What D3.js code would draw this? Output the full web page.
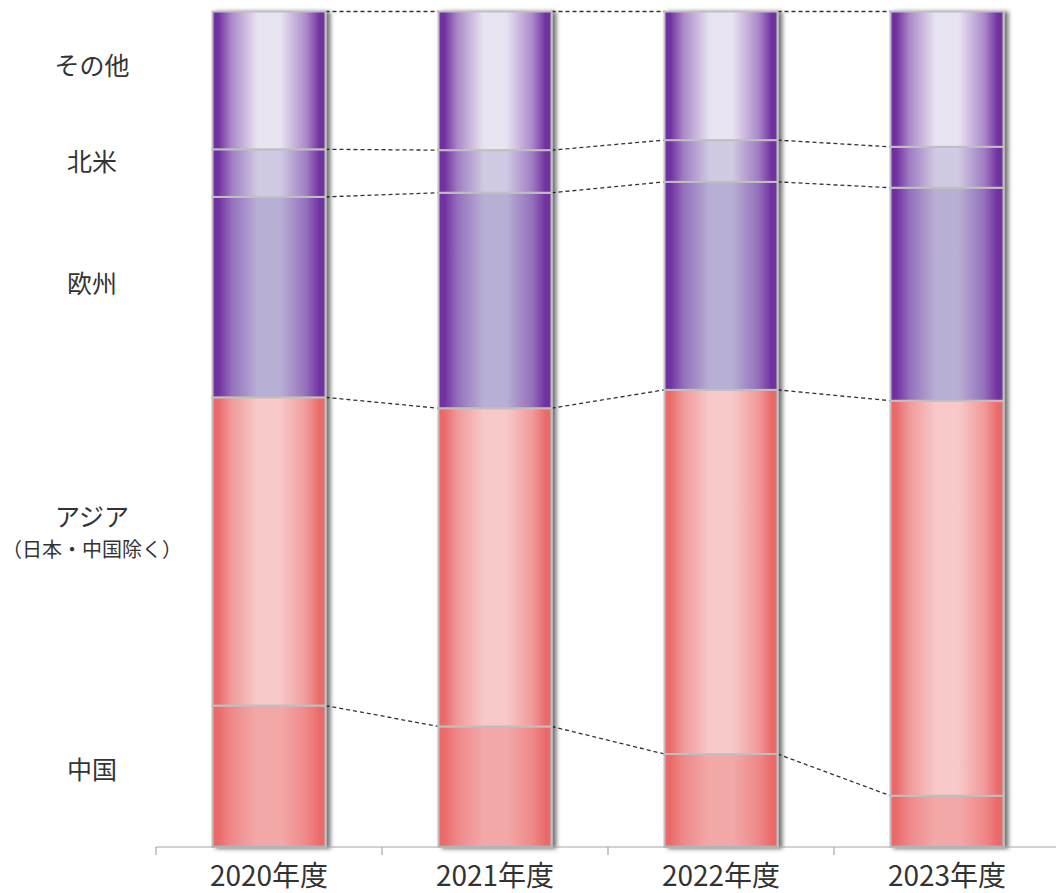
<!DOCTYPE html>
<html lang="ja">
<head>
<meta charset="utf-8">
<script src="https://cdn.jsdelivr.net/npm/d3@7"></script>
<style>
  html, body { margin: 0; padding: 0; background: #fff; }
  svg { display: block; font-family: "Noto Sans CJK JP", "Noto Sans", sans-serif; }
</style>
</head>
<body>
<svg id="chart" width="1056" height="893"></svg>
<script>
// Fiscal years on the x axis
const years = ["2020年度", "2021年度", "2022年度", "2023年度"];

// Regional share of sales (%), stacked bottom to top
const regions = ["中国", "アジア", "欧州", "北米", "その他"];
const china  = [16.9, 14.4, 11.1, 6.1];
const asia   = [36.9, 38.1, 43.6, 47.3];
const europe = [24.0, 25.8, 24.9, 25.5];
const namer  = [5.7, 5.1, 5.0, 4.9];
const other  = [16.5, 16.6, 15.4, 16.2];

// Row labels on the left, with their vertical anchor on the share axis (%)
const labelText   = ["その他", "北米", "欧州", "アジア", "（日本・中国除く）", "中国"];
const labelAnchor = [93.4, 81.9, 67.3, 39.4, 35.5, 9.1];
const labelSize   = [25, 25, 25, 25, 20, 25];

const seriesValues = [china, asia, europe, namer, other];

// Gradient colours per region: edge and centre
const edgeColors   = ["#EA6A6A", "#EA6A6A", "#7030A0", "#7030A0", "#7030A0"];
const centerColors = ["#F3A8A8", "#F7C9C9", "#B8AFD5", "#D0CAE3", "#E8E4F2"];

const svg = d3.select("#chart");

const table = years.map((y, i) => {
  const row = { year: y };
  regions.forEach((r, k) => { row[r] = seriesValues[k][i]; });
  return row;
});
const stacked = d3.stack().keys(regions)(table);

const x = d3.scaleBand().domain(years).range([156, 1060]).paddingInner(0.5).paddingOuter(0.25);
const y = d3.scaleLinear().domain([0, 100]).range([846.7, 11.5]);
const step = x.step();

// Gradients and shadow
const defs = svg.append("defs");
regions.forEach((r, k) => {
  const g = defs.append("linearGradient").attr("id", "grad" + k)
    .attr("x1", "0%").attr("x2", "100%").attr("y1", "0%").attr("y2", "0%");
  const mid = d3.interpolateRgb(edgeColors[k], centerColors[k])(0.5);
  g.append("stop").attr("offset", "0%").attr("stop-color", edgeColors[k]);
  g.append("stop").attr("offset", "5%").attr("stop-color", edgeColors[k]);
  g.append("stop").attr("offset", "17%").attr("stop-color", mid);
  g.append("stop").attr("offset", "40%").attr("stop-color", centerColors[k]);
  g.append("stop").attr("offset", "60%").attr("stop-color", centerColors[k]);
  g.append("stop").attr("offset", "83%").attr("stop-color", mid);
  g.append("stop").attr("offset", "95%").attr("stop-color", edgeColors[k]);
  g.append("stop").attr("offset", "100%").attr("stop-color", edgeColors[k]);
});
const f = defs.append("filter").attr("id", "shadow")
  .attr("x", "-10%").attr("y", "-5%").attr("width", "130%").attr("height", "110%");
f.append("feDropShadow").attr("dx", 4).attr("dy", 1).attr("stdDeviation", 2.2)
  .attr("flood-color", "#000").attr("flood-opacity", 0.55);

// Connector lines between adjacent bars at each segment boundary
const boundaries = stacked.slice(1).map(s => s.map(d => d[0])).concat([stacked[stacked.length - 1].map(d => d[1])]);
const conn = svg.append("g");
boundaries.forEach(b => {
  for (let i = 0; i < years.length - 1; i++) {
    conn.append("line")
      .attr("x1", x(years[i]) + x.bandwidth()).attr("y1", y(b[i]))
      .attr("x2", x(years[i + 1])).attr("y2", y(b[i + 1]))
      .attr("stroke", "#333").attr("stroke-width", 1.3)
      .attr("stroke-dasharray", "4,3");
  }
});

// Bars
const bars = svg.append("g");
years.forEach((yr, i) => {
  const g = bars.append("g").attr("filter", "url(#shadow)");
  stacked.forEach((s, k) => {
    const d = s[i];
    g.append("rect")
      .attr("x", x(yr)).attr("width", x.bandwidth())
      .attr("y", y(d[1])).attr("height", y(d[0]) - y(d[1]))
      .attr("fill", "url(#grad" + k + ")")
      .attr("stroke", "#BFBFBF").attr("stroke-width", 2);
  });
});

// X axis
const axis = svg.append("g").attr("transform", "translate(0,847)");
axis.append("line").attr("x1", 156).attr("x2", 1060).attr("stroke", "#A6A6A6").attr("stroke-width", 1.2);
d3.range(years.length + 1).forEach(i => {
  const tx = 156 + i * step;
  axis.append("line").attr("x1", tx).attr("x2", tx).attr("y1", 0).attr("y2", 8)
    .attr("stroke", "#A6A6A6").attr("stroke-width", 1.2);
});
axis.selectAll("text.year").data(years).join("text")
  .attr("class", "year")
  .attr("x", d => x(d) + x.bandwidth() / 2)
  .attr("y", 39)
  .attr("text-anchor", "middle")
  .attr("font-size", 28)
  .attr("fill", "#333")
  .text(d => d);

// Row labels
svg.append("g").selectAll("text").data(labelText).join("text")
  .attr("x", 92)
  .attr("y", (d, i) => y(labelAnchor[i]))
  .attr("dy", "0.35em")
  .attr("text-anchor", "middle")
  .attr("font-size", (d, i) => labelSize[i])
  .attr("fill", "#333")
  .text(d => d);
</script>
</body>
</html>
